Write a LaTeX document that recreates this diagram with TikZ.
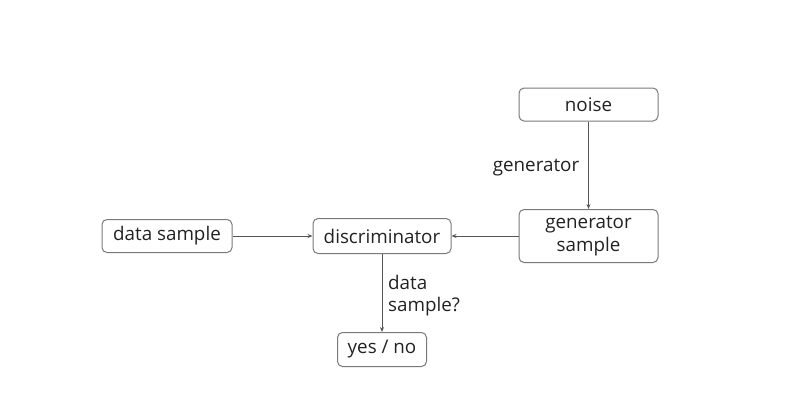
\documentclass[tikz,border=0pt]{standalone}
\usepackage{fontspec}
\setmainfont{Open Sans}
\usetikzlibrary{arrows.meta}
\definecolor{boxline}{HTML}{7A7A7A}
\definecolor{conn}{HTML}{555555}
\definecolor{txt}{HTML}{222222}
\begin{document}
\begin{tikzpicture}[x=1pt,y=-1pt,
  box/.style={draw=boxline, line width=1pt, rounded corners=5pt, inner sep=0pt,
    align=center, text=txt, font=\fontsize{18.8}{23}\selectfont},
  lbl/.style={text=txt, font=\fontsize{18.8}{22}\selectfont, inner sep=0pt},
  conn/.style={draw=conn, line width=0.8pt, -{Stealth[length=5pt,width=4pt]}}]
\useasboundingbox (0,0) rectangle (791,407);
\node[box, minimum width=139pt, minimum height=33pt] (noise) at (588.5,104.5) {noise};
\node[box, minimum width=139pt, minimum height=53pt] (gens) at (588.5,236) {generator\\sample};
\node[box, minimum width=138pt, minimum height=35pt] (disc) at (382,236) {discriminator};
\node[box, minimum width=130pt, minimum height=33pt] (data) at (167,236) {data sample};
\node[box, minimum width=89pt, minimum height=34pt] (yn) at (382,349.5) {yes / no};
\draw[conn] (noise.south) -- (gens.north);
\draw[conn] (data.east) -- (disc.west);
\draw[conn] (gens.west) -- (disc.east);
\draw[conn] (disc.south) -- (yn.north);
\node[lbl] (glbl) at (536,168) {generator};
\node[lbl, align=left, anchor=west] (dlbl) at (388,296) {data\\sample?};
\end{tikzpicture}
\end{document}
